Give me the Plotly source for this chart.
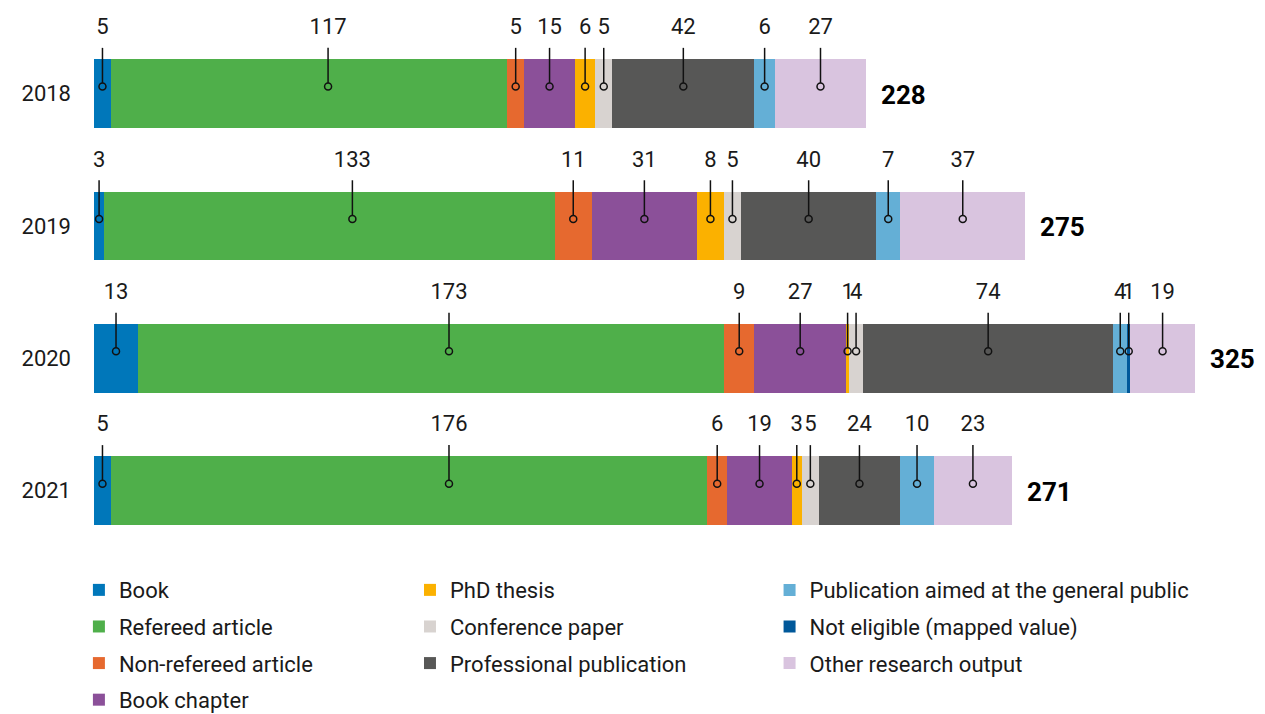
import plotly.graph_objects as go

years = ["2018", "2019", "2020", "2021"]

categories = [
    "Book", "Refereed article", "Non-refereed article", "Book chapter",
    "PhD thesis", "Conference paper", "Professional publication",
    "Publication aimed at the general public", "Not eligible (mapped value)",
    "Other research output",
]

book = [5, 3, 13, 5]
refereed_article = [117, 133, 173, 176]
non_refereed_article = [5, 11, 9, 6]
book_chapter = [15, 31, 27, 19]
phd_thesis = [6, 8, 1, 3]
conference_paper = [5, 5, 4, 5]
professional_publication = [42, 40, 74, 24]
general_public = [6, 7, 4, 10]
not_eligible = [0, 0, 1, 0]
other_output = [27, 37, 19, 23]

series = [book, refereed_article, non_refereed_article, book_chapter, phd_thesis,
          conference_paper, professional_publication, general_public, not_eligible,
          other_output]

colors = ["#0077BA", "#4FAF4A", "#E6692F", "#8B5099", "#FBB100", "#D8D3D0",
          "#575756", "#64AFD6", "#00589A", "#D9C4DF"]

# legend columns (column-major like the original)
legend_col = ["legend", "legend", "legend", "legend", "legend2", "legend2", "legend2",
              "legend3", "legend3", "legend3"]

# the original places the big "Refereed article" callouts right of centre (pixels)
refereed_nudge_px = [19, 23, 18, 40]

FONT = "Roboto"
TXT = "#1a1a1a"
X_MAX = 348.1
PX_PER_UNIT = 1179 / X_MAX
y_pos = list(range(len(years)))

fig = go.Figure()

for i, (name, vals) in enumerate(zip(categories, series)):
    fig.add_trace(go.Bar(
        y=y_pos, x=vals, name=name, orientation="h",
        marker=dict(color=colors[i], line=dict(width=0)),
        width=0.52, legend=legend_col[i], legendgroup=name,
        hoverinfo="skip",
    ))

# callouts: label above, line down into the segment, open circle
lx, ly, lt = [], [], []
line_x, line_y = [], []
for yi in y_pos:
    start = 0
    for k, vals in enumerate(series):
        v = vals[yi]
        if v > 0:
            c = start + v / 2
            if k == 1:
                c += refereed_nudge_px[yi] / PX_PER_UNIT
            lx.append(c)
            ly.append(yi)
            lt.append(str(v))
            line_x += [c, c, None]
            line_y += [yi - 0.08, yi - 0.345, None]
        start += v

fig.add_trace(go.Scatter(
    x=line_x, y=line_y, mode="lines", line=dict(color="#111", width=1.5),
    showlegend=False, hoverinfo="skip",
))
fig.add_trace(go.Scatter(
    x=lx, y=[v - 0.053 for v in ly], mode="markers",
    marker=dict(symbol="circle-open", size=7, color="#111", line=dict(width=1.5)),
    showlegend=False, hoverinfo="skip",
))
fig.add_trace(go.Scatter(
    x=lx, y=[v - 0.49 for v in ly], mode="text", text=lt,
    textposition="middle center", textfont=dict(family=FONT, size=22, color=TXT),
    showlegend=False, hoverinfo="skip", cliponaxis=False,
))

totals = [sum(s[yi] for s in series) for yi in y_pos]
for yi, t in zip(y_pos, totals):
    fig.add_annotation(x=t, y=yi, text="<b>%d</b>" % t, showarrow=False,
                       xanchor="left", yanchor="middle", xshift=13, yshift=-1,
                       font=dict(family=FONT, size=26, color="#000"))

legend_style = dict(orientation="v", yanchor="top", xanchor="left",
                    font=dict(family=FONT, size=22, color=TXT),
                    bgcolor="rgba(0,0,0,0)", tracegroupgap=5, itemclick=False,
                    traceorder="grouped")

fig.update_layout(
    width=1265, height=714,
    margin=dict(l=86, r=0, t=0, b=165, autoexpand=False),
    plot_bgcolor="white", paper_bgcolor="white",
    barmode="stack",
    showlegend=True,
    xaxis=dict(range=[0, X_MAX], visible=False, fixedrange=True),
    yaxis=dict(range=[3.5, -0.646], tickvals=y_pos, ticktext=years,
               showgrid=False, zeroline=False, showline=False, ticks="",
               ticklabelstandoff=22, automargin=False,
               tickfont=dict(family=FONT, size=22, color=TXT)),
    legend=dict(x=-0.0128, y=-0.022, **legend_style),
    legend2=dict(x=0.268, y=-0.022, **legend_style),
    legend3=dict(x=0.573, y=-0.022, **legend_style),
    font=dict(family=FONT, color=TXT),
)

fig.write_html("out.html")
